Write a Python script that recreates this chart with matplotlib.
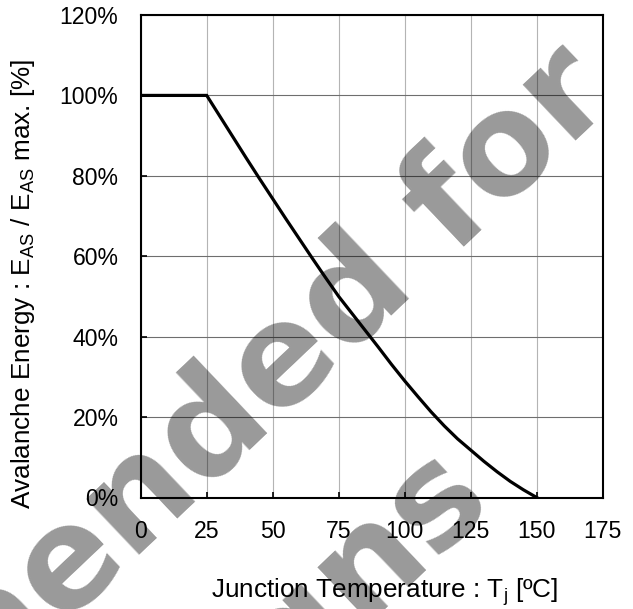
import matplotlib
matplotlib.use("Agg")
import matplotlib.pyplot as plt

# =========================
# DATA
# =========================
tj = [0, 25, 30, 35, 40, 45, 50, 55, 60, 65, 70, 75, 80, 85, 90, 95,
      100, 105, 110, 115, 120, 125, 130, 135, 140, 145, 150]
eas_pct = [100, 100, 94.8, 89.6, 84.4, 79.3, 74.3, 69.3, 64.4, 59.5, 54.7, 50.0,
           45.8, 41.6, 37.4, 33.1, 29.0, 25.1, 21.3, 17.8, 14.6, 11.8, 9.0,
           6.4, 4.0, 1.9, 0]

x_ticks = [0, 25, 50, 75, 100, 125, 150, 175]
y_ticks = [0, 20, 40, 60, 80, 100, 120]
y_tick_labels = [f"{v}%" for v in y_ticks]

plt.rcParams["font.family"] = ["Liberation Sans", "DejaVu Sans"]
plt.rcParams["mathtext.default"] = "regular"

W, H = 633, 609
fig = plt.figure(figsize=(W / 100, H / 100), dpi=100)
fig.patch.set_facecolor("white")

# axes box in pixel terms: x 140.7..602.7, y 15..497.5
ax = fig.add_axes([140.7 / W, 1 - 497.5 / H, 462 / W, 482.5 / H])

ax.plot(tj, eas_pct, color="black", linewidth=2.3, solid_joinstyle="miter", zorder=3)

ax.set_xlim(0, 175)
ax.set_ylim(0, 120)
ax.set_xticks(x_ticks)
ax.set_yticks(y_ticks)
ax.set_yticklabels(y_tick_labels)

ax.set_axisbelow(True)
ax.xaxis.grid(True, color="#b4b4b4", linewidth=0.8)
ax.yaxis.grid(True, color="#6e6e6e", linewidth=0.8)

for sp in ax.spines.values():
    sp.set_linewidth(1.5)
    sp.set_color("black")

ax.tick_params(axis="both", direction="in", length=4, width=1.2,
               labelsize=16.6, pad=16, colors="black")
ax.tick_params(top=False, right=False)

# =========================
# LABELS
# =========================
fig.text(384.5 / W, 1 - 598 / H, "Junction Temperature : T$_{j}$ [ºC]",
         ha="center", va="baseline", fontsize=18.8)
fig.text(23 / W, 1 - 283.5 / H, "Avalanche Energy : E$_{AS}$ / E$_{AS}$ max. [%]",
         rotation=90, ha="center", va="center", fontsize=18.8)

# =========================
# WATERMARK
# =========================
wm = dict(rotation=43.5, rotation_mode="anchor", ha="right", va="baseline",
          fontsize=101, fontweight="bold", family="DejaVu Sans",
          color="black", alpha=0.4, zorder=10)
fig.text(618 / W, 1 - 101 / H, "Not Recommended for", **wm)
fig.text(495 / W, 1 - 505 / H, "New Designs", **wm)

fig.savefig("out.png", dpi=100)
